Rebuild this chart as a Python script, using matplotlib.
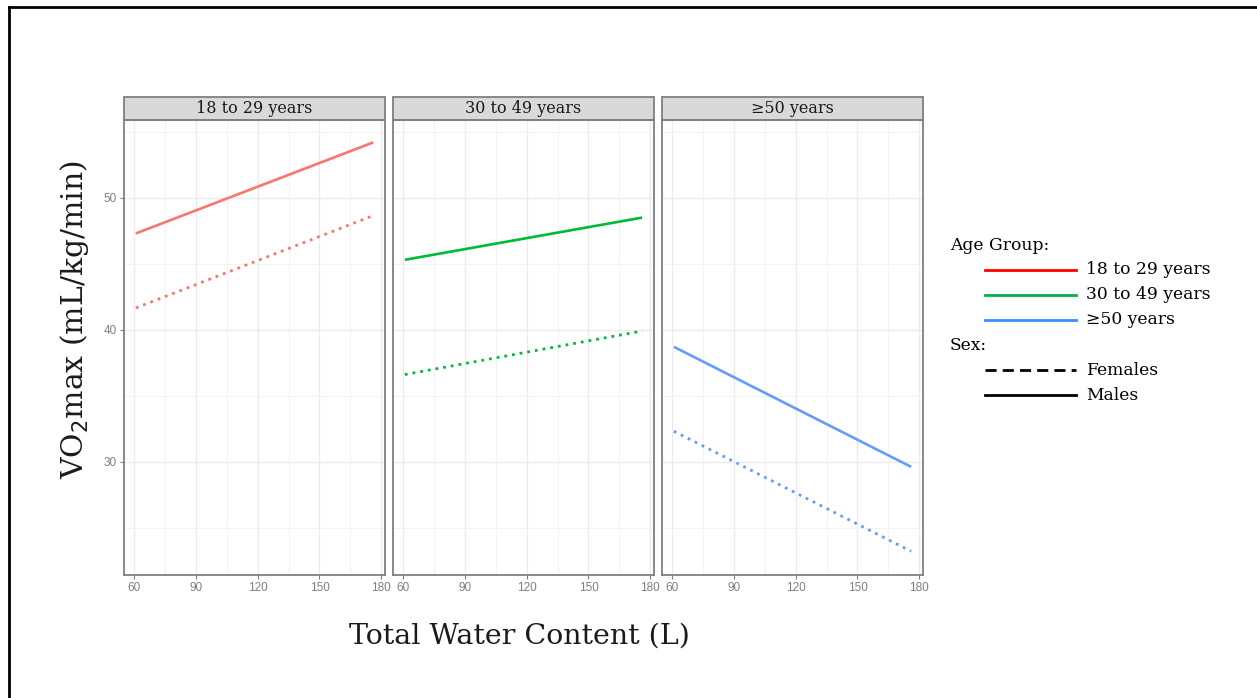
import numpy as np
import matplotlib.pyplot as plt
from matplotlib.lines import Line2D
from matplotlib.patches import Rectangle

# data (fitted lines, end points only)
groups = ["18 to 29 years", "30 to 49 years", "≥50 years"]
tbw = [61, 176]
males = [[47.3, 54.2], [45.3, 48.5], [38.7, 29.6]]
females = [[41.65, 48.65], [36.6, 39.9], [32.3, 23.2]]

panel_cols = ["#F8766D", "#00BA38", "#619CFF"]
legend_cols = ["#FF0000", "#00B050", "#3A8DFF"]
xticks = [60, 90, 120, 150, 180]
yticks = [30, 40, 50]

serif = "DejaVu Serif"
W, H = 1257, 698
fig = plt.figure(figsize=(W / 100, H / 100), dpi=100)

lefts = [124, 393, 662]
pw = 261
top, bottom = 120, 575

for i, g in enumerate(groups):
    ax = fig.add_axes([lefts[i] / W, 1 - bottom / H, pw / W, (bottom - top) / H])
    ax.plot(tbw, males[i], color=panel_cols[i], lw=1.9, solid_capstyle="butt")
    ax.plot(tbw, females[i], color=panel_cols[i], lw=2.0, linestyle=(0, (1, 1.8)))
    ax.set_xlim(55.25, 181.75)
    ax.set_ylim(21.4, 55.9)
    ax.set_xticks(xticks)
    ax.set_xticks([75, 105, 135, 165], minor=True)
    ax.set_yticks(yticks)
    ax.set_yticks([25, 35, 45, 55], minor=True)
    ax.grid(True, which="major", color="#EBEBEB", lw=1.0)
    ax.grid(True, which="minor", color="#F3F3F3", lw=0.8)
    ax.set_axisbelow(True)
    for s in ax.spines.values():
        s.set_color("#7F7F7F")
        s.set_linewidth(1.3)
    ax.tick_params(which="major", length=3, color="#7F7F7F", labelcolor="#7F7F7F",
                   labelsize=8.5, pad=2)
    ax.tick_params(which="minor", length=0)
    for lab in ax.get_xticklabels() + ax.get_yticklabels():
        lab.set_family("Liberation Sans")
    if i > 0:
        ax.set_yticklabels([])
        ax.tick_params(axis="y", length=0)
    # facet strip
    ax.add_patch(Rectangle((0, 1), 1, 23 / (bottom - top), transform=ax.transAxes,
                           facecolor="#D9D9D9", edgecolor="#7F7F7F", lw=1.3,
                           clip_on=False))
    ax.text(0.5, 1 + 11.5 / (bottom - top), g, transform=ax.transAxes, ha="center",
            va="center", fontsize=11.5, family=serif, color="#1A1A1A")

fig.text(75 / W, 1 - 320 / H, "VO$_2$max (mL/kg/min)", rotation=90, ha="center",
         va="center", fontsize=21.5, family=serif, color="#1A1A1A")
fig.text(519 / W, 1 - 636 / H, "Total Water Content (L)", ha="center", va="center",
         fontsize=20.5, family=serif, color="#1A1A1A")

# legend, drawn by hand
fs = 12.3
fig.text(950 / W, 1 - 245 / H, "Age Group:", fontsize=fs, family=serif, va="center")
rows = [270, 295, 320]
for lab, c, y in zip(groups, legend_cols, rows):
    fig.add_artist(Line2D([985 / W, 1076 / W], [1 - y / H] * 2, color=c, lw=2))
    fig.text(1086 / W, 1 - y / H, lab, fontsize=fs, family=serif, va="center")
fig.text(950 / W, 1 - 345 / H, "Sex:", fontsize=fs, family=serif, va="center")
for lab, ls, y in zip(["Females", "Males"], [(0, (4, 2.2)), "-"], [370, 395]):
    fig.add_artist(Line2D([985 / W, 1076 / W], [1 - y / H] * 2, color="black", lw=2,
                          linestyle=ls))
    fig.text(1086 / W, 1 - y / H, lab, fontsize=fs, family=serif, va="center")

# frame edge at top and left
fig.add_artist(Line2D([9 / W, 1], [1 - 7 / H] * 2, color="black", lw=2))
fig.add_artist(Line2D([9 / W] * 2, [0, 1 - 7 / H], color="black", lw=2))

fig.savefig("out.png", dpi=100)
